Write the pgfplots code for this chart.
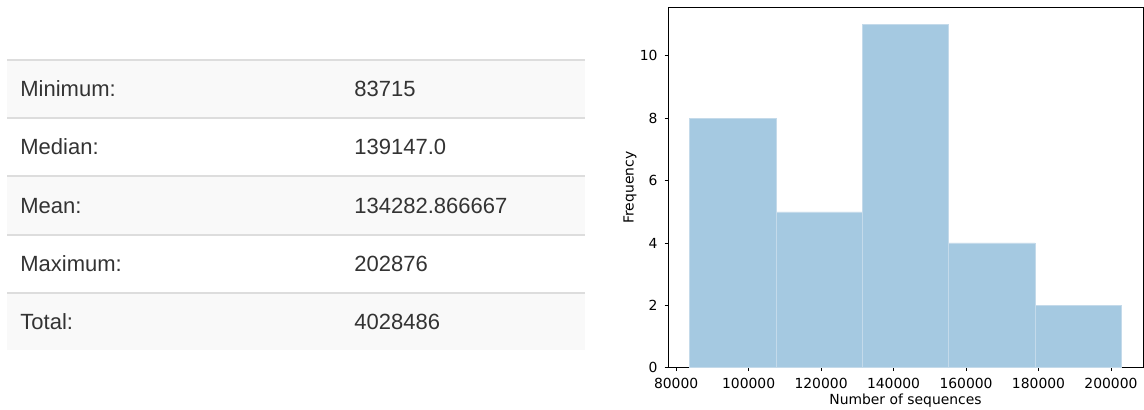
\documentclass[border=0pt]{standalone}
\usepackage{pgfplots}
\pgfplotsset{compat=1.18}
\usepackage{fontspec}
\setmainfont{Liberation Sans}
\newfontfamily\mpl{DejaVu Sans}
\definecolor{rowgray}{HTML}{F9F9F9}
\definecolor{rowline}{HTML}{DDDDDD}
\definecolor{txt}{HTML}{333333}
\definecolor{histblue}{RGB}{165,201,225}
\begin{document}
\begin{tikzpicture}
\useasboundingbox (0,0) rectangle (572pt,204.5pt);
% table rows
\fill[rowgray] (3.5pt,145.5pt) rectangle (292.5pt,174.5pt);
\fill[rowgray] (3.5pt,87pt) rectangle (292.5pt,116.5pt);
\fill[rowgray] (3.5pt,29.5pt) rectangle (292.5pt,58pt);
\foreach \yy in {174.5,145.5,116.5,87,58}{
  \draw[rowline, line width=0.6pt] (3.5pt,\yy pt) -- (292.5pt,\yy pt);
}
\begin{scope}[every node/.style={anchor=west, text=txt, font=\fontsize{11}{13}\selectfont, inner sep=0pt}]
\node at (10pt,160pt) {Minimum:};
\node at (177pt,160pt) {83715};
\node at (10pt,131pt) {Median:};
\node at (177pt,131pt) {139147.0};
\node at (10pt,101.5pt) {Mean:};
\node at (177pt,101.5pt) {134282.866667};
\node at (10pt,72.5pt) {Maximum:};
\node at (177pt,72.5pt) {202876};
\node at (10pt,43.5pt) {Total:};
\node at (177pt,43.5pt) {4028486};
\end{scope}
\begin{axis}[
  at={(334pt,20.65pt)}, anchor=south west,
  scale only axis, width=237.5pt, height=180.1pt,
  xmin=77757, xmax=208834, ymin=0, ymax=11.55,
  xtick={80000,100000,120000,140000,160000,180000,200000},
  ytick={0,2,4,6,8,10},
  scaled x ticks=false,
  /pgf/number format/.cd, fixed, 1000 sep={}, assume math mode=true, /pgfplots/.cd,
  tick align=outside, major tick length=1.75pt,
  xtick pos=bottom, ytick pos=left,
  axis line style={line width=0.45pt, black},
  every tick/.style={line width=0.45pt, black},
  tick label style={font=\mpl\fontsize{6.95}{8}\selectfont, text=black},
  xlabel={Number of sequences}, ylabel={Frequency},
  every axis x label/.style={at={(axis description cs:0.5,-0.0925)}, anchor=center, font=\mpl\fontsize{6.95}{8}\selectfont},
  every axis y label/.style={at={(axis description cs:-0.08,0.5)}, rotate=90, anchor=center, font=\mpl\fontsize{6.95}{8}\selectfont},
]
\addplot[ybar interval, fill=histblue, draw={rgb,255:red,196;green,218;blue,234}, line width=0.25pt]
  coordinates {(83715,8) (107547,5) (131379,11) (155212,4) (179044,2) (202876,2)};
\end{axis}
\end{tikzpicture}
\end{document}
